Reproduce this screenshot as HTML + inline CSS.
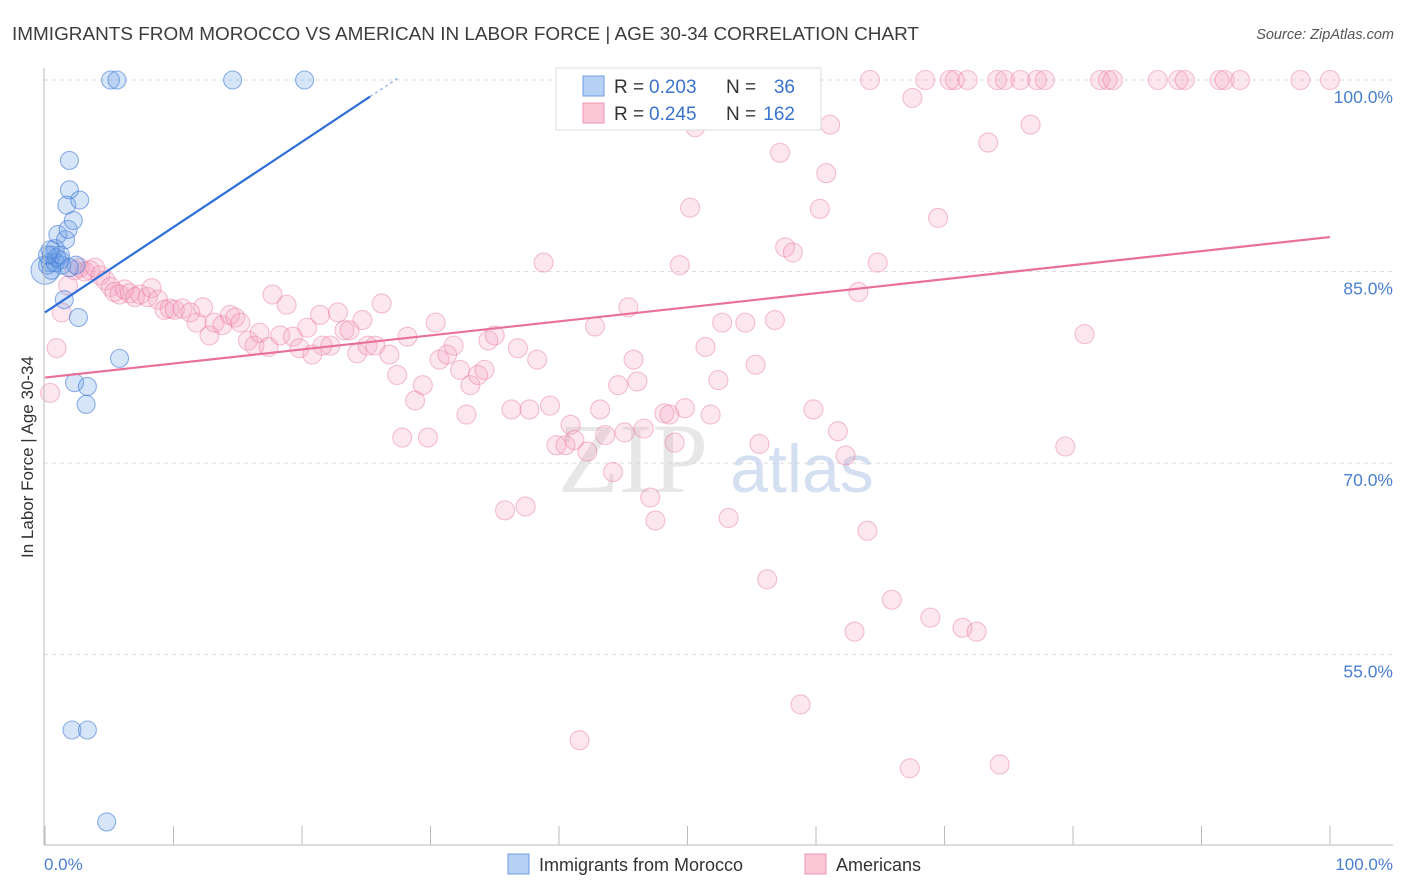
<!DOCTYPE html>
<html><head><meta charset="utf-8"><style>
body{margin:0;background:#fff;font-family:"Liberation Sans",sans-serif;}
svg{display:block}
</style></head><body>
<svg id="chart" width="1406" height="892">
<text x="12" y="40" font-size="18.5" textLength="907" lengthAdjust="spacingAndGlyphs" fill="#3c3c3c">IMMIGRANTS FROM MOROCCO VS AMERICAN IN LABOR FORCE | AGE 30-34 CORRELATION CHART</text>
<text x="1394" y="39" font-size="14.5" fill="#555" font-style="italic" text-anchor="end">Source: ZipAtlas.com</text>
<g id="grid"></g>
<text x="633" y="492" font-size="100" fill="#d8d8d8" font-family="Liberation Serif,serif" text-anchor="middle" opacity="0.6">ZIP</text>
<text x="802" y="492" font-size="68" fill="#b9cdea" text-anchor="middle" opacity="0.6">atlas</text>
<g id="pts"></g>
<g id="lines"></g>
<line x1="44" y1="68" x2="44" y2="845" stroke="#bbb"/>
<line x1="44" y1="845" x2="1393" y2="845" stroke="#bbb"/>
<text x="33" y="457" font-size="17" fill="#333" text-anchor="middle" transform="rotate(-90 33 457)">In Labor Force | Age 30-34</text>
<text x="44" y="870" font-size="17" fill="#4a7fd0">0.0%</text>
<text x="1393" y="870" font-size="17" fill="#4a7fd0" text-anchor="end">100.0%</text>
<g>
<rect x="556" y="68" width="265" height="62" fill="#fff" stroke="#ddd"/>
<rect x="583" y="76" width="21" height="20" fill="#b7d0f5" stroke="#6f9ee0"/>
<rect x="583" y="103" width="21" height="20" fill="#fbc6d6" stroke="#ec95b0"/>
<text x="614" y="93" font-size="19" fill="#333">R =</text>
<text x="649" y="93" font-size="19" fill="#3b73cc">0.203</text>
<text x="726" y="93" font-size="19" fill="#333">N =</text>
<text x="795" y="93" font-size="19" fill="#3b73cc" text-anchor="end">36</text>
<text x="614" y="120" font-size="19" fill="#333">R =</text>
<text x="649" y="120" font-size="19" fill="#3b73cc">0.245</text>
<text x="726" y="120" font-size="19" fill="#333">N =</text>
<text x="795" y="120" font-size="19" fill="#3b73cc" text-anchor="end">162</text>
</g>
<g>
<rect x="508" y="854" width="21" height="20" fill="#b7d0f5" stroke="#6f9ee0"/>
<text x="539" y="871" font-size="18" fill="#333">Immigrants from Morocco</text>
</g>
<g>
<rect x="805" y="854" width="21" height="20" fill="#fbc6d6" stroke="#ec95b0"/>
<text x="836" y="871" font-size="18" fill="#333">Americans</text>
</g>
</svg>
<script>
const yTicks=[100,85,70,55];
const yTickLabels=["100.0%","85.0%","70.0%","55.0%"];
const xTicks=[0,10,20,30,40,50,60,70,80,90,100];
const blueX=[0,0.4,0.5,0.8,1.0,1.2,1.3,1.6,1.8,1.9,1.9,1.7,2.2,2.7,1.5,2.3,3.3,3.2,2.6,5.8,2.1,3.3,4.8,5.1,5.6,14.6,20.2,0.2,0.5,0.8,0.9,1.2,0.2,0.4,2.4,1.9];
const blueY=[85.1,85.7,86.3,86.8,87.9,85.9,85.5,87.5,88.3,93.7,91.4,90.2,89.0,90.6,82.8,76.3,76.0,74.6,81.4,78.2,49.1,49.1,41.9,100,100,100,100,85.5,85.1,85.7,86.1,86.3,86.3,86.7,85.5,85.3];
const pinkX=[0.4,0.9,1.3,1.8,2.3,2.7,3.1,3.5,3.9,4.3,4.7,5.1,5.4,5.8,6.2,6.6,7.0,7.4,8.0,8.3,8.8,9.3,9.7,10.1,10.7,11.3,11.8,12.3,12.8,13.2,13.8,14.4,14.8,15.2,15.8,16.3,16.7,17.4,17.7,18.3,18.8,19.3,19.8,20.4,20.8,21.4,21.6,22.2,22.8,23.3,23.7,24.3,24.7,25.1,25.7,26.2,26.8,27.4,27.8,28.8,28.2,29.4,29.8,30.4,30.7,31.3,31.8,32.3,32.8,33.1,33.7,34.2,34.5,35.0,35.8,36.3,36.8,37.4,37.7,38.3,38.8,39.3,39.8,40.5,40.9,41.2,41.6,42.2,42.8,43.2,43.6,44.2,44.6,45.1,45.4,45.8,46.1,46.6,47.1,47.5,48.2,48.6,49.0,49.4,49.8,50.2,50.6,51.4,51.8,52.4,52.7,53.2,53.9,54.5,55.3,55.6,56.2,56.8,57.2,57.6,58.2,58.8,59.1,59.8,60.3,60.8,61.1,61.7,62.3,63.0,63.3,64.0,64.2,64.8,65.9,67.3,67.5,68.5,68.9,69.5,70.4,70.8,71.4,71.8,72.5,73.4,74.1,74.3,74.7,75.9,76.7,77.2,77.8,79.4,80.9,82.1,82.7,83.1,86.6,88.2,88.7,91.4,91.8,93.0,97.7,100];
const pinkY=[75.5,79.0,81.8,83.9,85.1,85.3,85.0,85.1,85.3,84.7,84.3,83.8,83.4,83.2,83.6,83.3,83.0,83.2,83.0,83.7,82.8,82.0,82.1,82.0,82.1,81.8,81.0,82.2,80.0,81.0,80.8,81.6,81.4,81.0,79.6,79.2,80.2,79.1,83.2,80.0,82.4,79.9,79.0,80.6,78.5,81.6,79.2,79.2,81.8,80.4,80.4,78.6,81.2,79.2,79.2,82.5,78.5,76.9,72.0,74.9,79.9,76.1,72.0,81.0,78.1,78.5,79.2,77.3,73.8,76.1,76.9,77.3,79.6,80.0,66.3,74.2,79.0,66.6,74.2,78.1,85.7,74.5,71.4,71.4,73.0,71.8,48.3,70.9,80.7,74.2,72.2,69.3,76.1,72.4,82.2,78.1,76.4,72.7,67.3,65.5,73.9,73.8,71.6,85.5,74.3,90.0,96.3,79.1,73.8,76.5,81.0,65.7,100,81.0,77.7,71.5,60.9,81.2,94.3,86.9,86.5,51.1,100,74.2,89.9,92.7,96.5,72.5,70.6,56.8,83.4,64.7,100,85.7,59.3,46.1,98.6,100,57.9,89.2,100,100,57.1,100,56.8,95.1,100,46.4,100,100,96.5,100,100,71.3,80.1,100,100,100,100,100,100,100,100,100,100,100];
const blueTrend=[81.8,0.668]; // intercept, slope
const pinkTrend=[76.7,87.7]; // y at x=0, y at x=100

const X=v=>45+v*12.85;
const Y=v=>80+(100-v)*12.77;
const NS="http://www.w3.org/2000/svg";
function mk(tag,attrs,parent){const e=document.createElementNS(NS,tag);for(const k in attrs)e.setAttribute(k,attrs[k]);parent.appendChild(e);return e;}
const grid=document.getElementById('grid');
yTicks.forEach((t,i)=>{
  const l=mk('line',{x1:44,x2:1393,y1:Y(t),y2:Y(t),stroke:'#ddd','stroke-dasharray':'4,4'},grid);
  
  
  const tx=mk('text',{x:1393,y:Y(t)+23,'font-size':17.5,fill:'#4a7fd0','text-anchor':'end'},grid);
  tx.textContent=yTickLabels[i];
  
  
});
xTicks.forEach(t=>{
  const l=mk('line',{x1:X(t),x2:X(t),y1:826,y2:845,stroke:'#bbb'},grid);
  
  
});
const pts=document.getElementById('pts');
pinkX.forEach((x,i)=>{
  const c=mk('circle',{cx:X(x),cy:Y(pinkY[i]),r:9.5,fill:'rgba(245,160,190,0.25)',stroke:'rgba(232,120,155,0.45)','stroke-width':1.1},pts);
  
  
});
blueX.forEach((x,i)=>{
  const c=mk('circle',{cx:X(x),cy:Y(blueY[i]),r:i===0?14:9,fill:'rgba(110,160,230,0.28)',stroke:'rgba(70,125,215,0.6)','stroke-width':1.1},pts);
  
  
});
const lines=document.getElementById('lines');
const bl=mk('line',{x1:X(0),y1:Y(blueTrend[0]),x2:X(25.3),y2:Y(blueTrend[0]+blueTrend[1]*25.3),stroke:'#2f6fd6','stroke-width':2.2},lines);


const bd=mk('line',{x1:X(25.3),y1:Y(blueTrend[0]+blueTrend[1]*25.3),x2:X(27.6),y2:Y(blueTrend[0]+blueTrend[1]*27.6),stroke:'#9bbbe8','stroke-width':1.5,'stroke-dasharray':'3,3'},lines);


const pl=mk('line',{x1:X(0),y1:Y(pinkTrend[0]),x2:X(100),y2:Y(pinkTrend[1]),stroke:'#e8709a','stroke-width':2.2},lines);


</script>
</body></html>
